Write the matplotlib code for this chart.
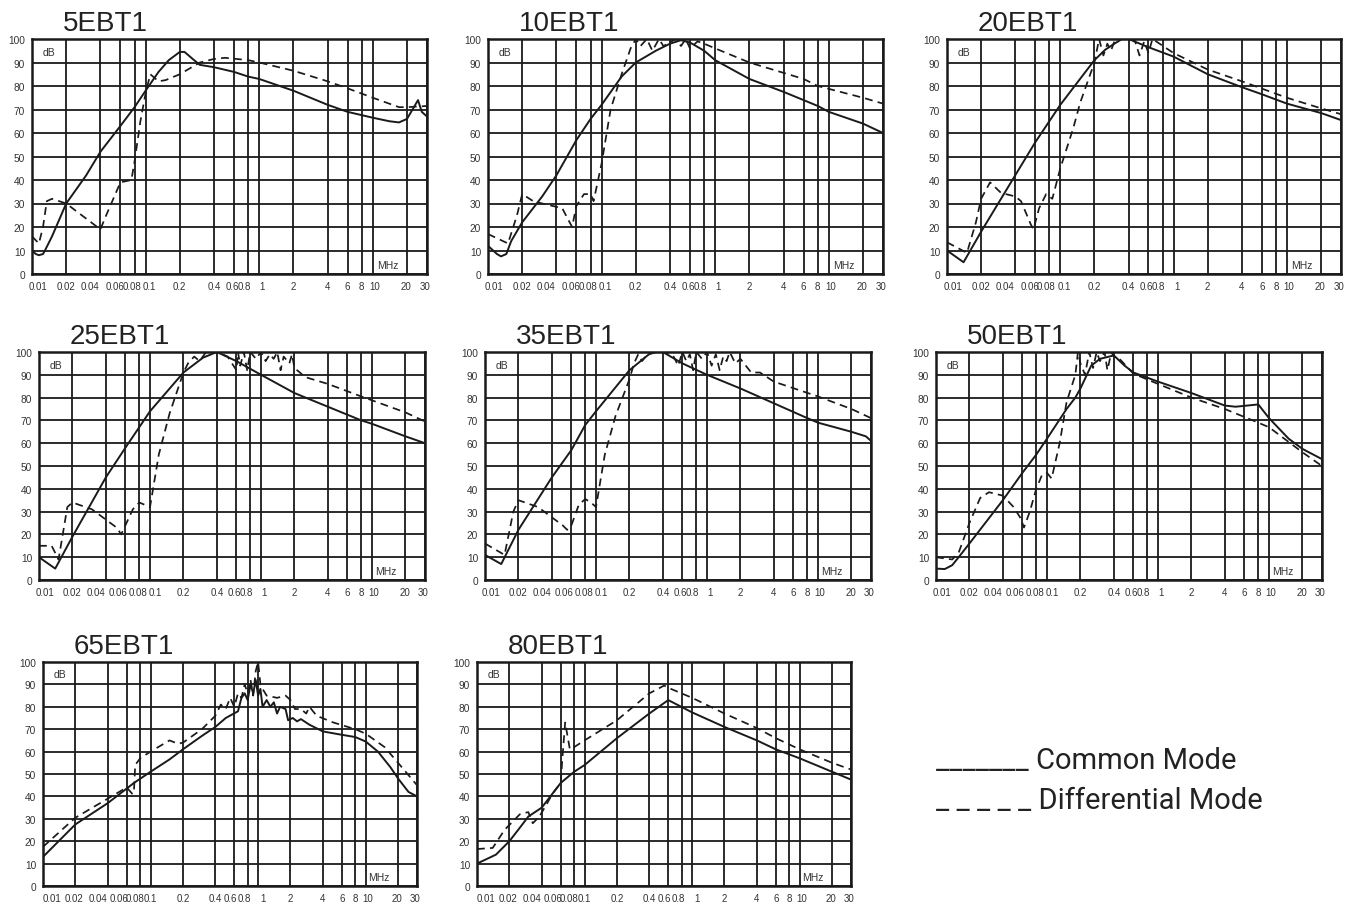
import matplotlib
matplotlib.use("Agg")
from matplotlib import pyplot as plt
from matplotlib.transforms import ScaledTranslation

# frequency axis ticks (MHz)
x_ticks = [0.01, 0.02, 0.04, 0.06, 0.08, 0.1, 0.2, 0.4, 0.6, 0.8, 1, 2, 4, 6, 8, 10, 20, 30]
x_labels = ['0.01', '0.02', '0.04', '0.06', '0.08', '0.1', '0.2', '0.4', '0.6', '0.8',
            '1', '2', '4', '6', '8', '10', '20', '30']
y_ticks = [0, 10, 20, 30, 40, 50, 60, 70, 80, 90, 100]

names = ['5EBT1', '10EBT1', '20EBT1', '25EBT1', '35EBT1', '50EBT1', '65EBT1', '80EBT1']

# 5EBT1
f5_cm = [0.01, 0.0108, 0.0115, 0.0125, 0.013, 0.015, 0.02, 0.03, 0.04, 0.06, 0.08, 0.1, 0.13, 0.16, 0.2, 0.22,
         0.26, 0.3, 0.4, 0.6, 0.8, 1, 2, 4, 6, 10, 14, 17, 20, 23, 25, 27, 30]
db5_cm = [10, 8.5, 8, 8.5, 10, 16, 30, 42, 52, 63, 71, 78, 86, 91, 94.5, 94.5,
          91.5, 89, 88, 86, 84, 83, 78, 72, 69, 66.5, 65, 64.5, 66, 71, 74, 69, 67]
f5_dm = [0.01, 0.0115, 0.0125, 0.0135, 0.015, 0.02, 0.04, 0.045, 0.06, 0.075, 0.08, 0.09, 0.1, 0.11,
         0.13, 0.15, 0.2, 0.3, 0.4, 0.5, 0.8, 1, 2, 4, 6, 10, 17, 20, 30]
db5_dm = [16, 13, 20, 31, 32, 30, 19, 25, 39, 40, 48, 65, 77, 85,
          82, 82.5, 85, 90, 91.5, 92, 91, 90, 86.5, 82, 79, 75, 71, 71, 71.5]

# 10EBT1
f10_cm = [0.01, 0.012, 0.013, 0.0145, 0.016, 0.02, 0.03, 0.04, 0.06, 0.08, 0.1, 0.15, 0.2, 0.3, 0.4, 0.5,
          0.6, 0.8, 1, 2, 4, 6, 8, 10, 20, 30]
db10_cm = [12, 8.5, 7.5, 8.5, 14, 22, 33, 42, 57, 66, 72, 84, 90, 95, 98, 99.5,
           98.5, 95, 91, 83, 77.5, 74, 71.5, 69, 64, 60]
f10_dm = [0.01, 0.015, 0.018, 0.02, 0.025, 0.03, 0.045, 0.055, 0.06, 0.07, 0.08, 0.085, 0.1, 0.12, 0.15,
          0.18, 0.2, 0.22, 0.25, 0.28, 0.32, 0.35, 0.45, 0.5, 0.55, 0.6, 0.7, 0.8, 1, 2, 6, 8, 20, 30]
db10_dm = [17, 13, 25, 34, 31, 30, 28, 20, 29, 34, 34, 31, 47, 70, 85,
           96, 100, 97, 100, 95, 100, 97, 100, 97, 100, 96, 99, 98, 96, 90, 83, 80, 75, 72.5]

# 20EBT1
f20_cm = [0.01, 0.014, 0.02, 0.04, 0.06, 0.1, 0.2, 0.25, 0.3, 0.35, 0.4, 0.6, 1, 2, 4, 6, 10, 20, 30]
db20_cm = [10, 5, 18, 42, 56, 72, 91, 95.5, 98, 100, 100, 96.5, 92.5, 85, 79.5, 76.5, 72.5, 68.5, 65.5]
f20_dm = [0.01, 0.015, 0.018, 0.02, 0.024, 0.03, 0.04, 0.045, 0.055, 0.058, 0.065, 0.075, 0.085, 0.1,
          0.13, 0.15, 0.2, 0.22, 0.24, 0.26, 0.28, 0.3, 0.35, 0.45, 0.5, 0.55, 0.6, 0.65, 0.7, 1,
          2, 4, 10, 20, 30]
db20_dm = [13.5, 9, 22, 32, 39, 34.5, 33, 31, 21, 19, 28, 34, 32, 45,
           62, 73, 90, 100, 93, 98, 95, 99, 100, 100, 93, 99, 94, 100, 99, 94,
           87, 82, 75, 70.5, 68]

# 25EBT1
f25_cm = [0.01, 0.014, 0.02, 0.04, 0.06, 0.1, 0.2, 0.3, 0.4, 0.6, 1, 2, 4, 8, 10, 20, 30]
db25_cm = [10, 5, 19, 45, 58, 74, 91, 97.5, 100, 96, 90, 82, 76, 70, 68.5, 63, 60]
f25_dm = [0.01, 0.013, 0.015, 0.018, 0.02, 0.03, 0.05, 0.055, 0.07, 0.08, 0.1, 0.12, 0.15, 0.2, 0.22,
          0.25, 0.28, 0.32, 0.4, 0.5, 0.6, 0.62, 0.65, 0.7, 0.75, 0.8, 0.9, 1.0, 1.1, 1.2, 1.3, 1.4,
          1.5, 1.6, 1.8, 1.9, 2, 2.5, 4, 8, 20, 30]
db25_dm = [15, 15, 9, 32, 34, 31, 23, 20, 31, 34, 32, 55, 73, 91, 95,
           98, 96, 100, 100, 98, 92, 100, 94, 100, 92, 100, 97, 100, 96, 99, 97, 100,
           92, 98, 95, 99, 93, 89, 86, 80.5, 73.5, 69.5]

# 35EBT1
f35_cm = [0.01, 0.014, 0.02, 0.04, 0.06, 0.08, 0.1, 0.2, 0.3, 0.35, 0.4, 0.6, 1, 2, 4, 8, 10, 20, 27, 30]
db35_cm = [11, 7, 22, 45, 57, 68, 74, 92, 99, 100, 100, 95, 90, 84, 77.5, 71, 69, 65, 63, 61]
f35_dm = [0.01, 0.015, 0.018, 0.02, 0.03, 0.05, 0.055, 0.06, 0.07, 0.08, 0.09, 0.1, 0.12, 0.15, 0.2,
          0.22, 0.24, 0.26, 0.3, 0.4, 0.5, 0.55, 0.6, 0.65, 0.7, 0.75, 0.8, 0.9, 1, 1.1, 1.2, 1.3,
          1.4, 1.5, 1.6, 1.8, 2, 2.5, 3, 4, 10, 20, 30]
db35_dm = [16, 11, 30, 35, 32, 24, 22, 24, 33, 35.5, 34, 32, 55, 72, 88,
           95, 99, 96, 100, 100, 98, 94, 100, 96, 99, 92, 100, 97, 100, 94, 99, 92,
           98, 96, 100, 95, 97, 91, 91, 87, 80.5, 75, 71]

# 50EBT1
f50_cm = [0.01, 0.012, 0.014, 0.016, 0.02, 0.04, 0.06, 0.08, 0.1, 0.15, 0.18, 0.2, 0.25, 0.3, 0.4, 0.5,
          0.6, 1, 2, 4, 5, 8, 10, 15, 20, 30]
db50_cm = [5, 4.8, 6.5, 10, 16, 35, 47, 55, 62, 75, 80, 84, 94, 97, 98.5, 94,
           91, 87, 82, 76.5, 76, 77, 71, 62, 57.5, 53]
f50_dm = [0.01, 0.014, 0.016, 0.02, 0.025, 0.03, 0.04, 0.05, 0.058, 0.062, 0.07, 0.08, 0.09, 0.1, 0.11,
          0.13, 0.15, 0.18, 0.19, 0.2, 0.22, 0.24, 0.26, 0.28, 0.3, 0.33, 0.35, 0.38, 0.4, 0.45,
          0.6, 1, 2, 4, 8, 10, 20, 30]
db50_dm = [10, 9, 12, 25, 36, 38.5, 37, 32, 27, 23, 30, 40, 46, 47, 44.5,
           60, 78, 90, 100, 95, 90, 100, 93, 100, 96, 100, 92, 100, 98, 97,
           90.5, 86, 80, 75, 69, 67, 56, 50]

# 65EBT1
f65_cm = [0.01, 0.02, 0.04, 0.06, 0.07, 0.1, 0.15, 0.2, 0.3, 0.4, 0.5, 0.65, 0.7, 0.75, 0.8, 0.85, 0.9,
          0.95, 1.0, 1.05, 1.1, 1.2, 1.3, 1.4, 1.5, 1.6, 1.8, 1.9, 2.1, 2.3, 2.5, 3, 4, 6, 8, 10,
          13, 17, 20, 25, 30]
db65_cm = [13, 27.5, 37, 43.5, 46, 51, 56.5, 61, 67, 71, 75, 78, 84, 86, 83, 90, 86,
           92, 85, 88, 80, 83, 80, 82, 77, 80, 79, 74, 75, 73.5, 74.5, 72, 69, 67.5, 66.5, 64.5,
           60, 53, 48, 42, 40]
f65_dm = [0.01, 0.02, 0.04, 0.06, 0.068, 0.07, 0.072, 0.08, 0.1, 0.15, 0.18, 0.2, 0.3, 0.4, 0.45, 0.5,
          0.55, 0.6, 0.65, 0.7, 0.75, 0.8, 0.85, 0.9, 0.95, 1.0, 1.05, 1.1, 1.2, 1.5, 1.8, 2, 2.2,
          2.5, 2.8, 3, 3.5, 5, 8, 10, 15, 20, 30]
db65_dm = [17.5, 30.5, 39, 44, 41, 42, 54, 57, 60, 65, 63.5, 64, 70, 76, 81, 79,
           84, 80, 86, 84, 90, 86, 92, 85, 96, 100, 90, 88, 85, 84, 85, 83, 79,
           79, 77, 80, 76, 73, 70, 68, 62, 55, 45]

# 80EBT1
f80_cm = [0.01, 0.015, 0.02, 0.025, 0.03, 0.04, 0.06, 0.08, 0.1, 0.2, 0.4, 0.6, 1, 2, 4, 6, 10, 20, 30]
db80_cm = [10, 14, 20, 26, 31, 35, 46, 51, 54, 66, 77, 83, 77.5, 71, 65, 61, 57, 51, 47.5]
f80_dm = [0.01, 0.014, 0.018, 0.025, 0.03, 0.033, 0.038, 0.045, 0.05, 0.06, 0.062, 0.066, 0.07, 0.073,
          0.08, 0.1, 0.2, 0.4, 0.55, 0.6, 1, 2, 4, 6, 10, 20, 30]
db80_dm = [16.5, 17, 25, 32, 33, 28, 31, 37, 41, 46, 56, 73, 66, 61,
           62, 65, 74, 86, 89.5, 88.5, 84, 77, 70.5, 66, 61, 55, 52]

common = [(f5_cm, db5_cm), (f10_cm, db10_cm), (f20_cm, db20_cm), (f25_cm, db25_cm),
          (f35_cm, db35_cm), (f50_cm, db50_cm), (f65_cm, db65_cm), (f80_cm, db80_cm)]
diff = [(f5_dm, db5_dm), (f10_dm, db10_dm), (f20_dm, db20_dm), (f25_dm, db25_dm),
        (f35_dm, db35_dm), (f50_dm, db50_dm), (f65_dm, db65_dm), (f80_dm, db80_dm)]

# axes boxes in pixels: left, top, width, height
W, H = 1355, 904
boxes = [(32, 40, 395, 235), (488, 40, 395, 235), (947, 40, 394, 235),
         (39, 353, 386, 228), (485, 353, 386, 228), (936, 353, 386, 228),
         (43, 663, 374, 224), (477, 663, 374, 224)]
# small sideways nudges (pixels) for the crowded x labels, one list per row
row_shifts = [[6, 0, -10, -5, -3, 4, 0, 0, -2, -4, 3, 0, 0, 0, 0, 2, -1, -2],
              [6, 0, -10, -7, -1, 5, 0, 0, -2, -4, 3, 0, 0, 0, 0, 2, -1, -2],
              [9, -1, -10, -8, -5, 0, 0, 0, -4, -3, 5, 0, 0, 0, 0, 2, -1, -2]]

fig = plt.figure(figsize=(W / 100, H / 100), dpi=100)
ink = '#1a1a1a'

for i, name in enumerate(names):
    l, t, w, h = boxes[i]
    ax = fig.add_axes([l / W, 1 - (t + h) / H, w / W, h / H])
    ax.set_xscale('log')
    ax.set_xlim(0.01, 30)
    ax.set_ylim(0, 100)
    ax.set_xticks(x_ticks)
    ax.set_xticklabels(x_labels)
    ax.minorticks_off()
    ax.set_yticks(y_ticks)
    ax.tick_params(length=0, labelsize=7, labelcolor='#333333', pad=5)
    for lab in ax.get_yticklabels():
        lab.set_family('Liberation Sans')
        lab.set_fontsize(7.3)
    shifts = row_shifts[i // 3]
    for lab, dx in zip(ax.get_xticklabels(), shifts):
        lab.set_family('Liberation Sans')
        lab.set_transform(lab.get_transform() + ScaledTranslation(dx / 100, 0, fig.dpi_scale_trans))
    ax.grid(True, color=ink, lw=1.3)
    ax.set_axisbelow(True)
    for sp in ax.spines.values():
        sp.set_linewidth(1.8)
        sp.set_color(ink)

    fx, fy = common[i]
    ax.plot(fx, fy, color=ink, lw=1.4, solid_joinstyle='round')
    dx, dy = diff[i]
    ax.plot(dx, dy, color=ink, lw=1.25, dashes=(4.5, 3))

    ax.text(0.028, 0.945, 'dB', transform=ax.transAxes, fontsize=7.5, family='Liberation Sans',
            color='#333333', va='center', ha='left')
    ax.text(0.927, 0.04, 'MHz', transform=ax.transAxes, fontsize=7.5, family='Liberation Sans',
            color='#333333', va='center', ha='right')
    ax.annotate(name, xy=(0, 1), xycoords='axes fraction', xytext=(22, 6.5),
                textcoords='offset points', fontsize=20, family='Liberation Sans',
                color='#222222', va='baseline', ha='left')

# legend written as text
fig.text(936 / W, 1 - 769 / H, '_______ Common Mode', fontsize=21, family='Roboto',
         color='#222222', va='baseline', ha='left')
fig.text(936 / W, 1 - 809 / H, '_ _ _ _ _ Differential Mode', fontsize=21, family='Roboto',
         color='#222222', va='baseline', ha='left')

fig.savefig('out.png', dpi=100)
